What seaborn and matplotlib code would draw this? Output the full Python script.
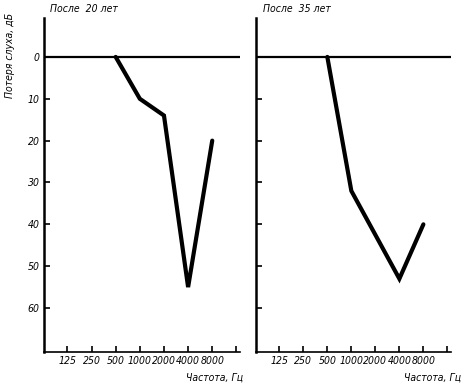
import matplotlib
matplotlib.use("Agg")
import matplotlib.pyplot as plt
import seaborn as sns
import pandas as pd

# Data
freq_labels = ["125", "250", "500", "1000", "2000", "4000", "8000", ""]
left_freq_idx = [2, 3, 4, 5, 6]
left_loss = [0, 10, 14, 55, 20]
right_freq_idx = [2, 3, 5, 6]
right_loss = [0, 32, 53, 40]
y_ticks = [0, 10, 20, 30, 40, 50, 60]
titles = ["После  20 лет", "После  35 лет"]
ylabel = "Потеря слуха, дБ"
xlabel = "Частота, Гц"

sns.set_theme(style="white", rc={"xtick.bottom": True, "ytick.left": True,
                                 "text.color": "black", "xtick.color": "black",
                                 "ytick.color": "black"})
plt.rcParams['font.family'] = ['DejaVu Sans']
plt.rcParams['font.style'] = 'italic'
plt.rcParams['font.stretch'] = 'condensed'

fig = plt.figure(figsize=(4.64, 3.87), dpi=100)
axL = fig.add_axes([44/464, 1-352/387, 196/464, 334/387])
axR = fig.add_axes([256/464, 1-352/387, 195/464, 334/387])

fs = 7.5
for ax, xs, ys, title, showy in [(axL, left_freq_idx, left_loss, titles[0], True),
                                  (axR, right_freq_idx, right_loss, titles[1], False)]:
    df = pd.DataFrame({"f": xs, "loss": ys})
    ax.axhline(0, color="black", lw=1.6, zorder=2)
    sns.lineplot(data=df, x="f", y="loss", ax=ax, color="black", lw=3.0,
                 solid_joinstyle="miter", zorder=3)
    ax.set_xlim(-0.97, 7.15)
    ax.set_ylim(70.5, -9.3)
    ax.set_xticks(range(len(freq_labels)))
    ax.set_xticklabels(freq_labels, fontsize=fs, fontstyle="italic", color="black")
    ax.set_yticks(y_ticks)
    if showy:
        ax.set_yticklabels([str(v) for v in y_ticks], fontsize=fs, fontstyle="italic", color="black")
    else:
        ax.set_yticklabels([])
    ax.tick_params(axis="both", direction="in", length=4, width=1.2, color="black", pad=3,
                   bottom=True, left=True)
    ax.set_xlabel("")
    ax.set_ylabel("")
    for s in ["top", "right"]:
        ax.spines[s].set_visible(False)
    ax.spines["left"].set_linewidth(1.8)
    ax.spines["bottom"].set_linewidth(1.2)
    ax.spines["left"].set_color("black")
    ax.spines["bottom"].set_color("black")
    ax.set_facecolor("white")

fig.text(50/464, 1-9/387, titles[0], fontsize=fs, fontstyle="italic", va="center", ha="left", color="black")
fig.text(263/464, 1-9/387, titles[1], fontsize=fs, fontstyle="italic", va="center", ha="left", color="black")
fig.text(10/464, 1-55/387, ylabel, fontsize=fs, fontstyle="italic", rotation=90, va="center", ha="center", color="black")
fig.text(243/464, 1-378/387, xlabel, fontsize=fs, fontstyle="italic", va="center", ha="right", color="black")
fig.text(461/464, 1-378/387, xlabel, fontsize=fs, fontstyle="italic", va="center", ha="right", color="black")

fig.savefig("out.png", dpi=100, facecolor="white")
